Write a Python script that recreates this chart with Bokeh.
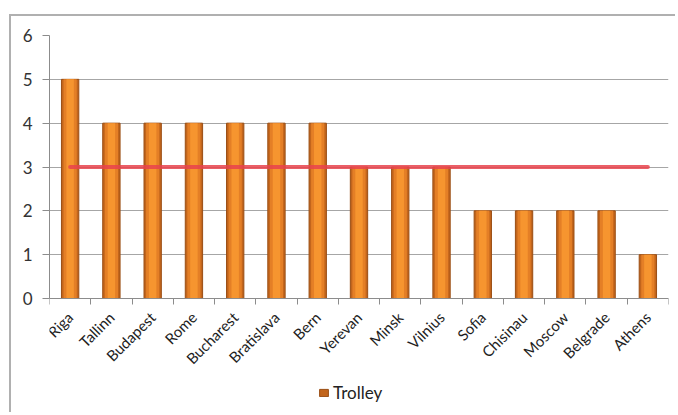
import math
from bokeh.plotting import figure
from bokeh.models import Range1d, FixedTicker, Legend, LegendItem, ColumnDataSource
from bokeh.embed import file_html
from bokeh.resources import INLINE

cities = ["Riga", "Tallinn", "Budapest", "Rome", "Bucharest", "Bratislava", "Bern",
          "Yerevan", "Minsk", "Vilnius", "Sofia", "Chisinau", "Moscow", "Belgrade", "Athens"]
trolley = [5, 4, 4, 4, 4, 4, 4, 3, 3, 3, 2, 2, 2, 2, 1]
reference_level = [3, 3]
y_ticks = [0, 1, 2, 3, 4, 5, 6]

xs = [i + 0.5 for i in range(len(cities))]
src = ColumnDataSource(dict(x=xs, top=trolley))

# frame reaches the canvas bottom so the legend (drawn in the frame) is not clipped;
# the x axis is pinned at y = 0
p = figure(width=666, height=398, output_backend="svg", toolbar_location=None,
           x_range=Range1d(0, len(cities)), y_range=Range1d(-2.646, 6),
           min_border_left=38, min_border_right=9, min_border_top=19, min_border_bottom=0)
p.outline_line_color = None
p.background_fill_color = "white"
p.styles = {"margin-left": "9px", "margin-top": "14px",
            "border-left": "2px solid #b0b0b0", "border-top": "2px solid #b0b0b0"}

outer = p.vbar(x="x", top="top", width=0.42, bottom=0, source=src,
               fill_color="#c2651c", line_color="#9a4e14", line_width=1)
p.vbar(x="x", top="top", width=0.32, bottom=0, source=src,
       fill_color="#e47f26", line_color=None)
p.vbar(x="x", top="top", width=0.18, bottom=0, source=src,
       fill_color="#f6952f", line_color=None)

p.line(x=[xs[0], xs[-1]], y=reference_level, line_color="#e8434c", line_alpha=0.85,
       line_width=4, line_cap="round")

# axes
p.yaxis.ticker = FixedTicker(ticks=y_ticks)
p.yaxis.bounds = (0, 6)
p.yaxis.axis_line_color = "#8c8c8c"
p.yaxis.major_tick_line_color = "#8c8c8c"
p.yaxis.major_tick_out = 7
p.yaxis.major_tick_in = 0
p.yaxis.minor_tick_line_color = None
p.yaxis.major_label_standoff = 10
p.yaxis.major_label_text_font = "Lato"
p.yaxis.major_label_text_font_size = "17px"
p.yaxis.major_label_text_color = "#333333"

p.xaxis.fixed_location = 0
p.xaxis.ticker = FixedTicker(ticks=xs, minor_ticks=list(range(len(cities) + 1)))
p.xaxis.major_label_overrides = {x: c for x, c in zip(xs, cities)}
p.xaxis.major_label_orientation = math.pi / 4
p.xaxis.major_tick_line_color = None
p.xaxis.minor_tick_line_color = "#8c8c8c"
p.xaxis.minor_tick_out = 6
p.xaxis.minor_tick_in = 0
p.xaxis.axis_line_color = "#8c8c8c"
p.xaxis.major_label_standoff = 10
p.xaxis.major_label_text_font = "Lato"
p.xaxis.major_label_text_font_size = "15px"
p.xaxis.major_label_text_color = "#1e1e1e"

p.xgrid.grid_line_color = None
p.ygrid.grid_line_color = "#a6a6a6"
p.ygrid.ticker = FixedTicker(ticks=y_ticks)

legend = Legend(items=[LegendItem(label="Trolley", renderers=[outer])],
                location=(269, 11), orientation="horizontal",
                padding=0, margin=0, border_line_color=None, background_fill_alpha=0,
                glyph_width=11, glyph_height=9, label_standoff=4,
                label_text_font="Lato", label_text_font_size="17px",
                label_text_color="#222222")
p.add_layout(legend, "center")

open("out.html", "w").write(file_html(p, INLINE))
